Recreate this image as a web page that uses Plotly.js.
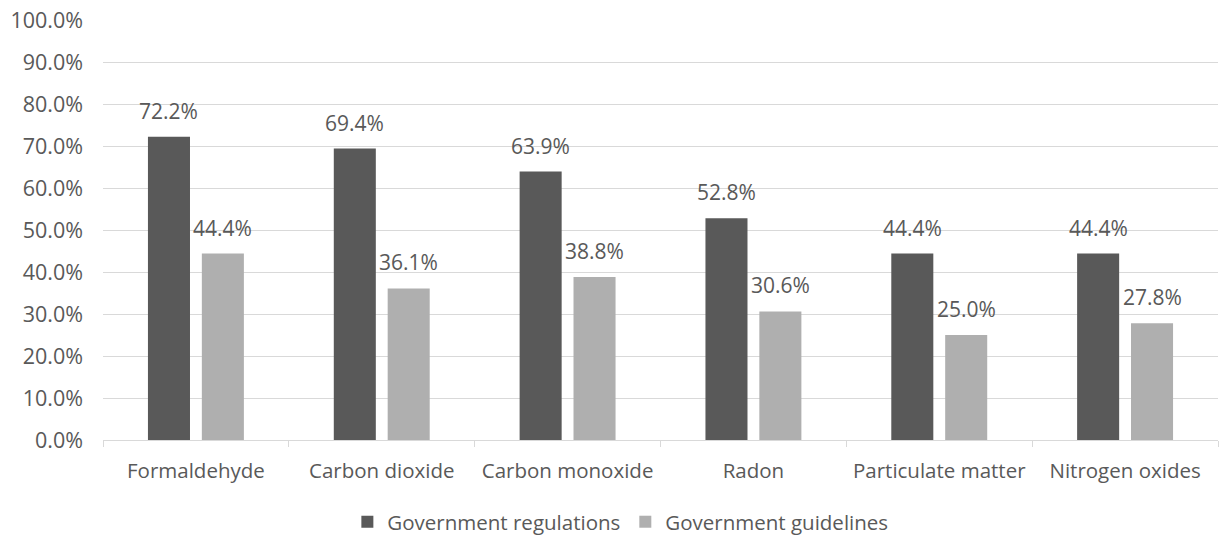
<!DOCTYPE html>
<html><head><meta charset="utf-8">
<script src="https://cdn.plot.ly/plotly-3.0.1.min.js"></script>
<style>html,body{margin:0;padding:0;background:#fff}#chart{width:1220px;height:535px}</style>
</head><body><div id="chart"></div>
<script>
var categories = ["Formaldehyde","Carbon dioxide","Carbon monoxide","Radon","Particulate matter","Nitrogen oxides"];
var regulations = [72.2,69.4,63.9,52.8,44.4,44.4];
var guidelines = [44.4,36.1,38.8,30.6,25.0,27.8];
var seriesNames = ["Government regulations","Government guidelines"];
var yTicks = [0,10,20,30,40,50,60,70,80,90,100];

var colors = ["#595959","#afafaf"];
var bargap = 0.42, bargroupgap = 0.22;
var FONT = "Open Sans, sans-serif";
var txtColor = "#595959";

var series = [regulations, guidelines];
var traces = series.map(function(vals,i){
  return {type:"bar", name:seriesNames[i], x:categories, y:vals,
    marker:{color:colors[i]}, hoverinfo:"none"};
});
var slot = (1-bargap)/2;
var annotations = [];
series.forEach(function(vals,i){
  vals.forEach(function(v,j){
    annotations.push({xref:"x", yref:"y", x:j+(i-0.5)*slot, y:v, text:v.toFixed(1)+"%",
      showarrow:false, yanchor:"bottom", yshift:10, font:{family:FONT,size:21,color:txtColor}});
  });
});

var layout = {
  width:1220, height:535,
  margin:{l:103,r:2,t:20,b:95,autoexpand:false},
  paper_bgcolor:"#fff", plot_bgcolor:"#fff",
  barmode:"group", bargap:bargap, bargroupgap:bargroupgap,
  font:{family:FONT,size:20.5,color:txtColor},
  showlegend:true,
  legend:{orientation:"h", x:0.464, xanchor:"center", y:-0.195, yanchor:"middle",
    font:{family:FONT,size:20.5,color:txtColor}, itemwidth:30, traceorder:"normal"},
  xaxis:{type:"category", showline:true, linecolor:"#d9d9d9", linewidth:1, automargin:false,
    ticks:"outside", tickson:"boundaries", ticklen:6, tickcolor:"#d9d9d9",
    tickfont:{family:FONT,size:20.5,color:txtColor}, showgrid:false, ticklabelstandoff:12},
  yaxis:{range:[0,100], tickvals:yTicks, ticktext:yTicks.map(function(t){return t.toFixed(1)+"%";}),
    showgrid:true, gridcolor:"#d9d9d9", gridwidth:1, zeroline:false, showline:false, automargin:false,
    ticks:"", tickfont:{family:FONT,size:21.5,color:txtColor}, ticklabelstandoff:19},
  annotations:annotations
};
Plotly.newPlot("chart", traces, layout, {displayModeBar:false, staticPlot:true});
</script></body></html>
